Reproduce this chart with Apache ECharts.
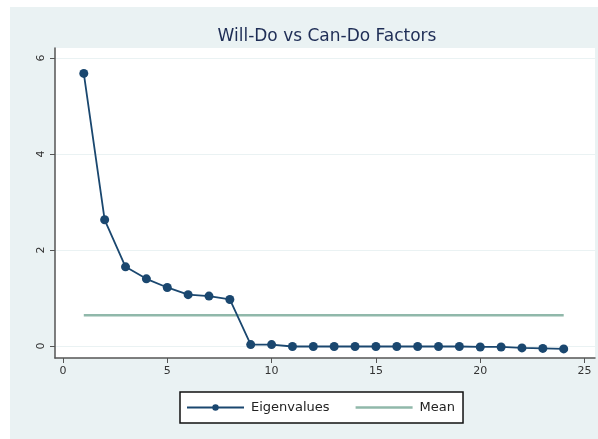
<!DOCTYPE html>
<html>
<head>
<meta charset="utf-8">
<script src="https://cdn.jsdelivr.net/npm/echarts@6/dist/echarts.min.js"></script>
<style>html,body{margin:0;padding:0;background:#fff;}#c{width:598px;height:439px;}</style>
</head>
<body>
<div id="c"></div>
<script>
const components = [1,2,3,4,5,6,7,8,9,10,11,12,13,14,15,16,17,18,19,20,21,22,23,24];
const eigenvalues = [5.68,2.63,1.65,1.40,1.22,1.07,1.04,0.97,0.03,0.03,-0.01,-0.01,-0.01,-0.01,-0.01,-0.01,-0.01,-0.01,-0.01,-0.02,-0.02,-0.04,-0.05,-0.06];
const meanValue = 0.64;
const xTicks = [0,5,10,15,20,25];
const yTicks = [0,2,4,6];
const titleText = 'Will-Do vs Can-Do Factors';

const chart = echarts.init(document.getElementById('c'), null, {renderer:'canvas'});
chart.setOption({
  backgroundColor: '#ffffff',
  animation: false,
  graphic: [{type:'rect', z:-10, shape:{x:10,y:7,width:588,height:432}, style:{fill:'#eaf2f3'}}],
  title: {text: titleText, left: 322, textAlign:'center', top: 23,
    textStyle:{fontFamily:'DejaVu Sans, sans-serif', fontWeight:'normal', fontSize:17, color:'#1e2d55'}},
  grid: {left:55, right:3, top:48, bottom:81, show:true, backgroundColor:'#ffffff', borderWidth:0},
  xAxis: {type:'value', min:-0.38, max:25.5,
    axisLine:{onZero:false, lineStyle:{color:'#555', width:1.5}},
    axisTick:{show:true, length:5, customValues: xTicks, lineStyle:{color:'#555'}},
    axisLabel:{customValues: xTicks, color:'#333', fontSize:11, fontFamily:'DejaVu Sans, sans-serif', margin:8},
    splitLine:{show:false}},
  yAxis: {type:'value', min:-0.25, max:6.21,
    axisLine:{show:true, onZero:false, lineStyle:{color:'#555', width:1.5}},
    axisTick:{show:true, length:5, customValues: yTicks, lineStyle:{color:'#555'}},
    axisLabel:{customValues: yTicks, rotate:90, color:'#333', fontSize:11, fontFamily:'DejaVu Sans, sans-serif', margin:8},
    splitLine:{show:true, lineStyle:{color:'#eaf2f3', width:1}}},
  legend: {left:180, top:392, height:29, padding:[9,8,9,6], itemGap:26,
    backgroundColor:'#ffffff', borderColor:'#111', borderWidth:1.5,
    itemWidth:57, itemHeight:8,
    textStyle:{fontSize:13, color:'#222', fontFamily:'DejaVu Sans, sans-serif', padding:[0,0,0,2]},
    data:['Eigenvalues', {name:'Mean', icon:'path://M0,0L100,0L100,4L0,4Z'}]},
  series: [
    {name:'Eigenvalues', type:'line', data: components.map((c,i)=>[c, eigenvalues[i]]),
      symbol:'circle', symbolSize:9, itemStyle:{color:'#1a476f'}, lineStyle:{color:'#1a476f', width:1.8}, z:3},
    {name:'Mean', type:'line', data: [[components[0], meanValue],[components[components.length-1], meanValue]],
      symbol:'none', itemStyle:{color:'#90b8aa'}, lineStyle:{color:'#90b8aa', width:2.5}, z:2}
  ]
});
</script>
</body>
</html>
